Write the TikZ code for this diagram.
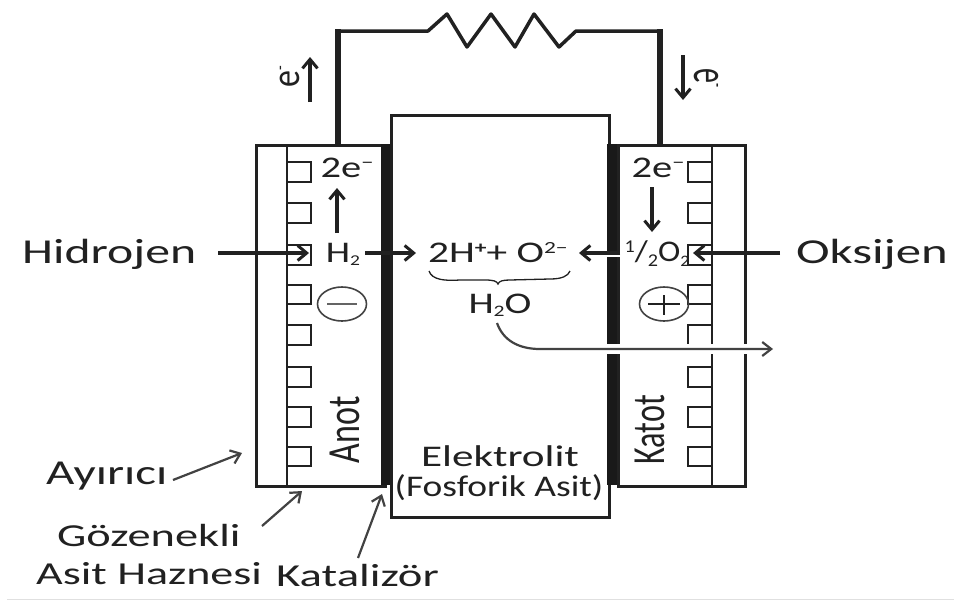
\documentclass[tikz,border=0pt]{standalone}
\usepackage{graphicx}
\usepackage{fontspec}
\setmainfont{Carlito}
\usetikzlibrary{arrows.meta,calc,shapes.geometric}
\definecolor{ink}{gray}{0.13}
\newcommand{\wide}[2][1.2]{\scalebox{#1}[1]{#2}}
\tikzset{
  x=1pt,y=-1pt,
  frame/.style={draw=ink,line width=2.8pt},
  wirepath/.style={draw=ink,line width=3.5pt,line join=round},
  thickwire/.style={draw=ink,line width=6pt},
  catalyst/.style={fill=black!90,draw=none},
  tooth/.style={draw=ink,line width=2.6pt},
  flow/.style={draw=ink,line width=3.2pt,-{Straight Barb[length=9pt,width=15pt,line width=3pt]}},
  thinflow/.style={draw=ink!85,line width=2.2pt,-{Straight Barb[length=9pt,width=14pt,line width=2.2pt]}},
  halo/.style={draw=white},
  lab/.style={text=ink,inner sep=0pt,font=\fontsize{32}{32}\selectfont},
  big/.style={text=ink,inner sep=0pt,font=\fontsize{35}{35}\selectfont},
  mid/.style={text=ink,inner sep=0pt,font=\fontsize{30}{30}\selectfont},
  chem/.style={text=ink,inner sep=0pt,font=\fontsize{30}{30}\selectfont},
  sign/.style={ellipse,draw=ink!85,line width=1.6pt,minimum width=49pt,minimum height=34pt,inner sep=0pt},
}
\begin{document}
\begin{tikzpicture}
\useasboundingbox (0,0) rectangle (954,600);
\fill[white] (0,0) rectangle (954,600);
\draw[black!12,line width=1pt] (7,599) -- (954,599);
% electrolyte
\node[frame,minimum width=218pt,minimum height=402pt,inner sep=0pt,anchor=north west] (elec) at (390,114) {};
% cell frames
\node[frame,minimum width=129pt,minimum height=341pt,inner sep=0pt,anchor=north west] (anode) at (255,144) {};
\node[frame,minimum width=127pt,minimum height=341pt,inner sep=0pt,anchor=north west] (cathode) at (617,144) {};
\draw[frame] (287,144) -- (287,485);
\draw[frame] (712,144) -- (712,485);
% catalyst
\fill[catalyst] (381,144) rectangle (390,485);
\fill[catalyst] (607,144) rectangle (617,485);
% teeth
\foreach \a/\b in {162/182,203/223,245/265,285/304,325/345,367/387,407/427,447/466}{
  \draw[tooth] (287,\a) -- (311,\a) -- (311,\b) -- (287,\b);
  \draw[tooth] (712,\a) -- (688,\a) -- (688,\b) -- (712,\b);
}
% external circuit
\draw[wirepath] (338,31) -- (428,31) -- (447,14) -- (467,47) -- (491,14) -- (515,47) -- (534,14) -- (559,47) -- (576,31) -- (660,31);
\draw[thickwire] (338,29.2) -- (338,144);
\draw[thickwire] (660,29.2) -- (660,144);
% electron labels
\node[text=ink,inner sep=0pt,rotate=90,font=\fontsize{40}{40}\selectfont] (eL) at (290,77) {\scalebox{0.85}[1]{e\raisebox{14pt}{\fontsize{18}{18}\selectfont -}}};
\node[text=ink,inner sep=0pt,rotate=270,font=\fontsize{50}{50}\selectfont] (eR) at (706,78) {\scalebox{0.6}[1]{e\raisebox{17pt}{\fontsize{22}{22}\selectfont -}}};
\coordinate (eLa) at (310,102); \coordinate (eLb) at (310,57);
\coordinate (eRa) at (683,55); \coordinate (eRb) at (683,100);
\draw[flow] (eLa) -- (eLb);
\draw[flow] (eRa) -- (eRb);
% inner labels
\node[chem] (eAn) at (347,168) {\wide[1.35]{2e\raisebox{9pt}{\fontsize{18}{18}\selectfont −}}};
\node[chem] (eCa) at (658,168) {\wide[1.35]{2e\raisebox{9pt}{\fontsize{18}{18}\selectfont −}}};
\node[chem] (h2) at (343,254) {\wide[1.3]{H\raisebox{-3pt}{\fontsize{15}{15}\selectfont 2}}};
\node[chem] (o2) at (657,254) {\wide[1.12]{\raisebox{9pt}{\fontsize{18}{18}\selectfont 1}/\raisebox{-5pt}{\fontsize{18}{18}\selectfont 2}O\raisebox{-5pt}{\fontsize{16}{16}\selectfont 2}}};
\node[chem,anchor=west] (rx) at (428,253) {\wide[1.38]{2H\raisebox{9pt}{\fontsize{17}{17}\selectfont\bfseries +}+ O\raisebox{9pt}{\fontsize{17}{17}\selectfont 2−}}};
\node[chem] (h2o) at (500,305) {\wide[1.35]{H\raisebox{-3pt}{\fontsize{16}{16}\selectfont 2}O}};
\coordinate (upA) at (337,233); \coordinate (upB) at (337,188);
\coordinate (dnA) at (652,187); \coordinate (dnB) at (652,232);
\draw[flow] (upA) -- (upB);
\draw[flow] (dnA) -- (dnB);
% reaction arrows
\node[big,anchor=west] (hyd) at (22,254) {\wide[1.42]{Hidrojen}};
\node[big,anchor=east] (oxy) at (948,254) {\wide[1.45]{Oksijen}};
\coordinate (hI) at (218,253); \coordinate (hO) at (309,253);
\coordinate (h2a) at (365,253); \coordinate (h2b) at (416,253);
\coordinate (oI) at (780,253); \coordinate (oO) at (693,253);
\coordinate (o2a) at (620,253); \coordinate (o2b) at (579,253);
\draw[flow] (hI) -- (hO);
\draw[flow] (h2a) -- (h2b);
\draw[halo,line width=5pt] (600,254) -- (622,254);
\draw[flow] (oI) -- (oO);
\draw[flow] (o2a) -- (o2b);
% brace
\draw[ink,line width=1.3pt] (429,271) .. controls (432,280) and (445,281) .. (460,280) -- (485,280) .. controls (493,280) and (497,281) .. (498,284) .. controls (499,281) and (503,280) .. (510,280) -- (550,279) .. controls (562,279) and (568,276) .. (570,271);
% water out
\draw[halo,line width=10pt] (600,349) -- (752,349);
\draw[thinflow] (497,323) .. controls (503,340) and (518,349) .. (540,349) -- (773,349);
% signs
\node[sign] (minus) at (342,304) {};
\draw[ink!70,line width=1.6pt] (327,304) -- (357,304);
\node[sign] (plus) at (664,304) {};
\draw[ink,line width=2pt] (648,304) -- (680,304);
\draw[ink,line width=2pt] (664,295) -- (664,315);
% electrode names
\node[text=ink,inner sep=0pt,rotate=90,font=\fontsize{46}{46}\selectfont] (anot) at (345,430) {\scalebox{0.74}[1]{Anot}};
\node[text=ink,inner sep=0pt,rotate=90,font=\fontsize{46}{46}\selectfont] (katot) at (650,430) {\scalebox{0.7}[1]{Katot}};
\node[mid] (e1) at (500,456) {\wide[1.44]{Elektrolit}};
\node[mid] (e2) at (499,488) {\wide[1.25]{(Fosforik Asit)}};
% callouts
\node[big,anchor=west] (ay) at (46,476) {\wide[1.4]{Ayırıcı}};
\node[lab,anchor=west] (goz) at (57,535) {\wide[1.45]{Gözenekli}};
\node[lab,anchor=west] (asit) at (36,574) {\wide[1.44]{Asit Haznesi}};
\node[lab,anchor=west] (kat) at (276,576) {\wide[1.46]{Katalizör}};
\coordinate (ayS) at (173,480); \coordinate (ayT) at (242,453);
\coordinate (gozS) at (262,526); \coordinate (gozT) at (302,491);
\coordinate (katS) at (358,558); \coordinate (katT) at (382,494);
\draw[thinflow] (ayS) -- (ayT);
\draw[thinflow] (gozS) -- (gozT);
\draw[thinflow] (katS) -- (katT);
\end{tikzpicture}
\end{document}
